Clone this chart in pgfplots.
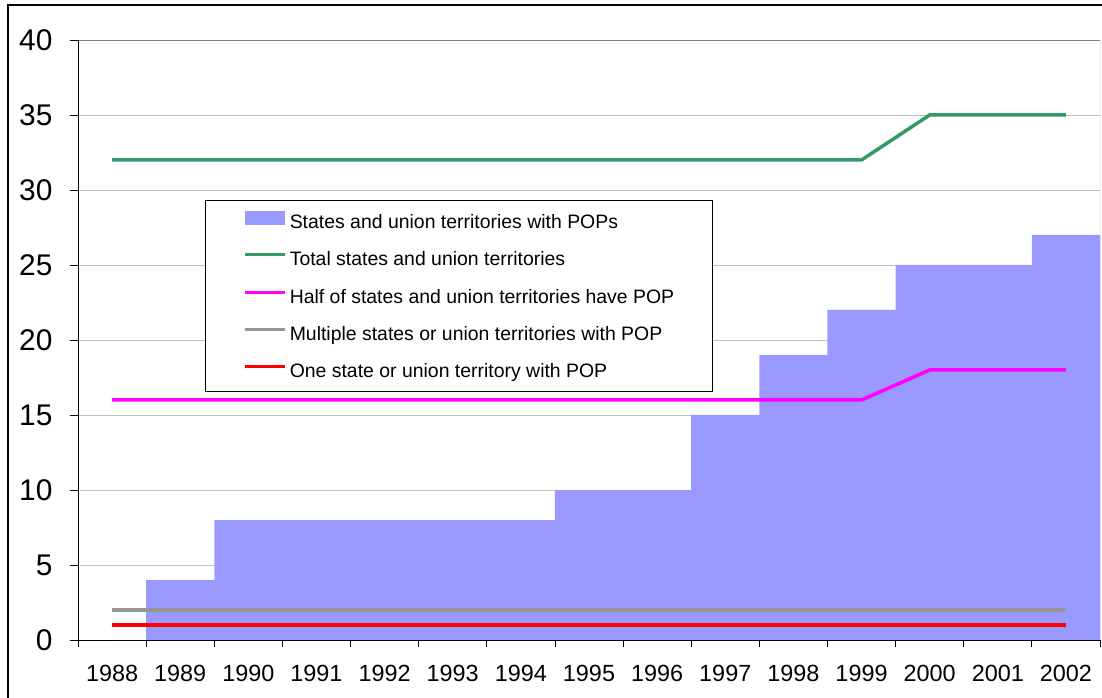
\documentclass[border=0pt]{standalone}
\usepackage{fontspec}
\setmainfont{Liberation Sans}
\usepackage{pgfplots}
\pgfplotsset{compat=1.18}
\definecolor{areablue}{RGB}{153,153,255}
\definecolor{tgreen}{RGB}{51,153,102}
\definecolor{pmag}{RGB}{255,0,255}
\definecolor{mgray}{RGB}{150,150,150}
\definecolor{gridc}{RGB}{192,192,192}
\definecolor{borderc}{RGB}{128,128,128}
\begin{document}
\begin{tikzpicture}
\path[use as bounding box] (-78bp,-58bp) rectangle (1024bp,640bp);
\draw[line width=2bp] (-70bp,-80bp) -- (-70bp,635bp) -- (1050bp,635bp);
\begin{axis}[
  scale only axis, width=1022bp, height=600bp,
  xmin=-0.5, xmax=14.5, ymin=0, ymax=40,
  xtick={0,1,2,3,4,5,6,7,8,9,10,11,12,13,14},
  xticklabels={1988,1989,1990,1991,1992,1993,1994,1995,1996,1997,1998,1999,2000,2001,2002},
  minor xtick={-0.5,0.5,1.5,2.5,3.5,4.5,5.5,6.5,7.5,8.5,9.5,10.5,11.5,12.5,13.5,14.5},
  ytick={0,5,10,15,20,25,30,35,40},
  tick align=outside, xtick pos=bottom, ytick pos=left,
  major x tick style={draw=none},
  minor x tick style={black, line width=0.8bp},
  major y tick style={black, line width=0.8bp},
  major tick length=8bp, minor tick length=7bp,
  axis line style={draw=none},
  ymajorgrids, y grid style={gridc, line width=0.8bp},
  /pgf/number format/assume math mode=true,
  xticklabel style={font=\fontsize{23.5}{24}\selectfont, yshift=-14bp},
  yticklabel style={font=\fontsize{30}{30}\selectfont, xshift=-14bp},
  legend cell align=left,
  legend style={at={(0.1243,0.7333)}, anchor=north west, draw=black, line width=1bp,
    fill=white, font=\fontsize{19.5}{22}\selectfont,
    inner xsep=38bp, inner ysep=10bp, row sep=19.3bp, column sep=0bp,
    nodes={inner sep=0pt, text height=14bp, text depth=4bp}},
]
\addplot[ybar, bar width=1, bar shift=0pt, fill=areablue, draw=none,
  legend image code/.code={\fill[areablue] (0bp,-1bp) rectangle (40bp,13bp); \path (43bp,0bp);}]
  coordinates {(0,0) (1,4) (2,8) (3,8) (4,8) (5,8) (6,8) (7,10) (8,10) (9,15) (10,19) (11,22) (12,25) (13,25) (14,27)};
\addlegendentry{States and union territories with POPs}
\addplot[tgreen, line width=3.5bp, mark=none,
  legend image code/.code={\draw[tgreen, line width=3bp] (0bp,6bp) -- (40bp,6bp); \path (43bp,0bp);}]
  coordinates {(0,32) (1,32) (2,32) (3,32) (4,32) (5,32) (6,32) (7,32) (8,32) (9,32) (10,32) (11,32) (12,35) (13,35) (14,35)};
\addlegendentry{Total states and union territories}
\addplot[pmag, line width=3.5bp, mark=none,
  legend image code/.code={\draw[pmag, line width=3bp] (0bp,6bp) -- (40bp,6bp); \path (43bp,0bp);}]
  coordinates {(0,16) (1,16) (2,16) (3,16) (4,16) (5,16) (6,16) (7,16) (8,16) (9,16) (10,16) (11,16) (12,18) (13,18) (14,18)};
\addlegendentry{Half of states and union territories have POP}
\addplot[mgray, line width=3.5bp, mark=none,
  legend image code/.code={\draw[mgray, line width=3bp] (0bp,6bp) -- (40bp,6bp); \path (43bp,0bp);}]
  coordinates {(0,2) (1,2) (2,2) (3,2) (4,2) (5,2) (6,2) (7,2) (8,2) (9,2) (10,2) (11,2) (12,2) (13,2) (14,2)};
\addlegendentry{Multiple states or union territories with POP}
\addplot[red, line width=3.5bp, mark=none,
  legend image code/.code={\draw[red, line width=3bp] (0bp,6bp) -- (40bp,6bp); \path (43bp,0bp);}]
  coordinates {(0,1) (1,1) (2,1) (3,1) (4,1) (5,1) (6,1) (7,1) (8,1) (9,1) (10,1) (11,1) (12,1) (13,1) (14,1)};
\addlegendentry{One state or union territory with POP}
\draw[borderc, line width=0.8bp] (rel axis cs:0,1) -- (rel axis cs:1,1) -- (rel axis cs:1,0);
\draw[black, line width=0.8bp] (rel axis cs:0,1) -- (rel axis cs:0,0) -- (rel axis cs:1,0);
\end{axis}
\end{tikzpicture}
\end{document}
